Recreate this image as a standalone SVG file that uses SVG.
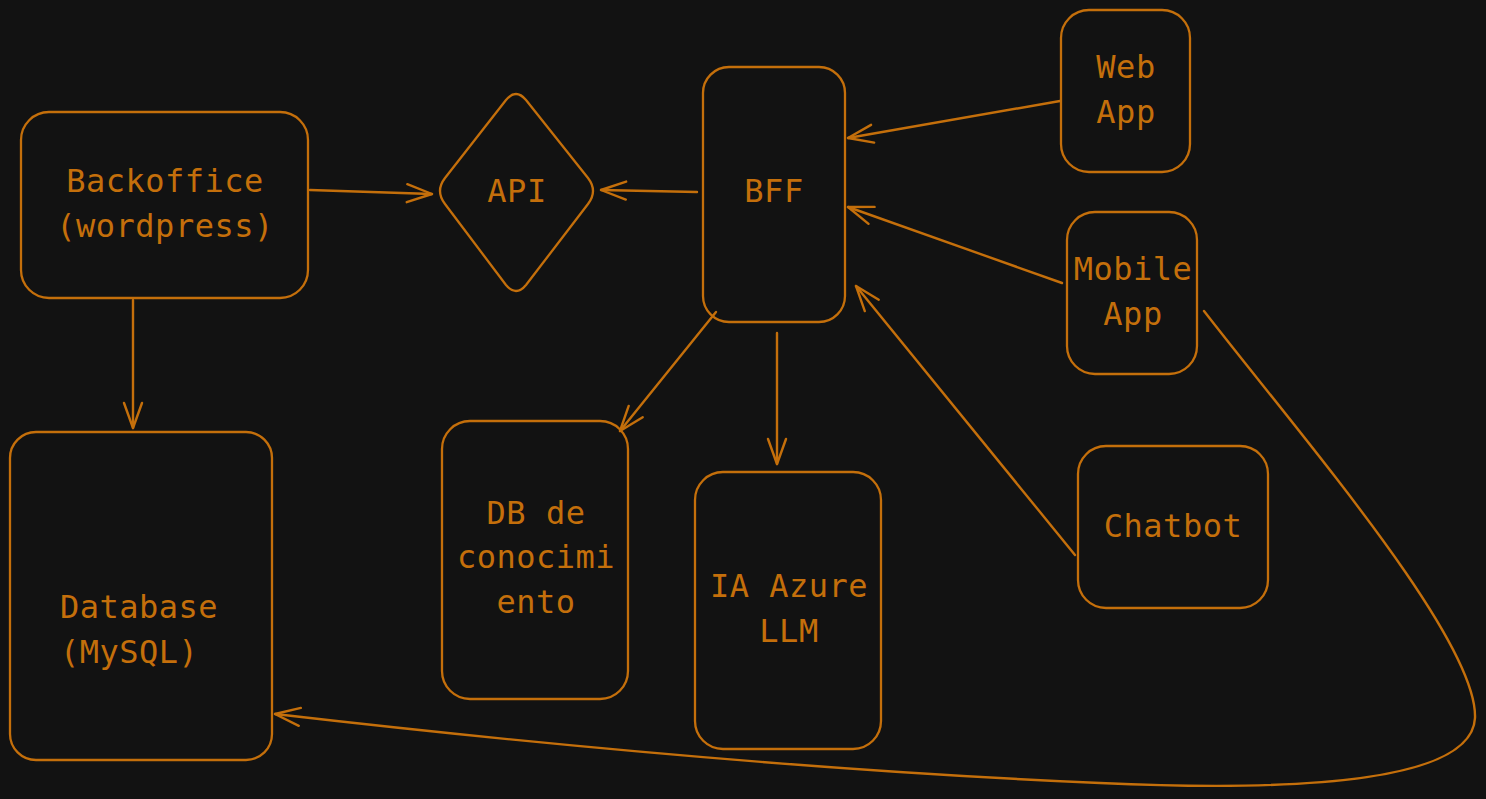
<svg xmlns="http://www.w3.org/2000/svg" width="1486" height="799" viewBox="0 0 1486 799">
<defs>
<style>
.n{fill:none;stroke:#c46f0b;stroke-width:2.3}
.t{fill:#c46f0b;font-family:"DejaVu Sans Mono","Liberation Mono",monospace;font-size:32px;letter-spacing:0.5px;text-anchor:middle}
.c{fill:none;stroke:#c46f0b;stroke-width:2.4;stroke-linecap:round}
</style>
<marker id="ah" markerUnits="userSpaceOnUse" viewBox="-30 -15 34 30" refX="0" refY="0" markerWidth="34" markerHeight="30" orient="auto">
<path d="M-25,-9 L0,0 L-25,9" fill="none" stroke="#c46f0b" stroke-width="2.4" stroke-linecap="round" stroke-linejoin="round"/>
</marker>
</defs>
<rect width="1486" height="799" fill="#121212"/>
<g id="connectors">
<path class="c" d="M310,190 L432,194" marker-end="url(#ah)"/>
<path class="c" d="M697,192 L601,190" marker-end="url(#ah)"/>
<path class="c" d="M133,300 L133,428" marker-end="url(#ah)"/>
<path class="c" d="M716,312 L620,431" marker-end="url(#ah)"/>
<path class="c" d="M777,333 L777,464" marker-end="url(#ah)"/>
<path class="c" d="M1060,101 L848,138" marker-end="url(#ah)"/>
<path class="c" d="M1062,283 L848,207" marker-end="url(#ah)"/>
<path class="c" d="M1075,555 L856,286" marker-end="url(#ah)"/>
<path class="c" d="M1204,311 C1300,435 1478,640 1475,718 C1472,782 1300,792 1100,783 C800,770 500,740 275,714" marker-end="url(#ah)"/>
</g>
<g id="backoffice">
<rect class="n" x="21" y="112" width="287" height="186" rx="28"/>
<text class="t" x="165" y="192">Backoffice</text>
<text class="t" x="165" y="237">(wordpress)</text>
</g>
<g id="api">
<path class="n" d="M445,178 L506,100 Q516,88 526,100 L588,178 Q598,191 588,204 L526,285 Q516,297 506,285 L445,204 Q435,191 445,178 Z"/>
<text class="t" x="517" y="202">API</text>
</g>
<g id="bff">
<rect class="n" x="703" y="67" width="142" height="255" rx="26"/>
<text class="t" x="774" y="202">BFF</text>
</g>
<g id="webapp">
<rect class="n" x="1061" y="10" width="129" height="162" rx="28"/>
<text class="t" x="1126" y="78">Web</text>
<text class="t" x="1126" y="123">App</text>
</g>
<g id="mobileapp">
<rect class="n" x="1067" y="212" width="130" height="162" rx="28"/>
<text class="t" x="1133" y="280">Mobile</text>
<text class="t" x="1133" y="325">App</text>
</g>
<g id="chatbot">
<rect class="n" x="1078" y="446" width="190" height="162" rx="28"/>
<text class="t" x="1173" y="537">Chatbot</text>
</g>
<g id="database">
<rect class="n" x="10" y="432" width="262" height="328" rx="26"/>
<text class="t" x="60" y="618" style="text-anchor:start">Database</text>
<text class="t" x="60" y="663" style="text-anchor:start">(MySQL)</text>
</g>
<g id="dbconocimiento">
<rect class="n" x="442" y="421" width="186" height="278" rx="28"/>
<text class="t" x="536" y="524">DB de</text>
<text class="t" x="536" y="568">conocimi</text>
<text class="t" x="536" y="613">ento</text>
</g>
<g id="iaazure">
<rect class="n" x="695" y="472" width="186" height="277" rx="28"/>
<text class="t" x="789" y="597">IA Azure</text>
<text class="t" x="789" y="642">LLM</text>
</g>
</svg>
